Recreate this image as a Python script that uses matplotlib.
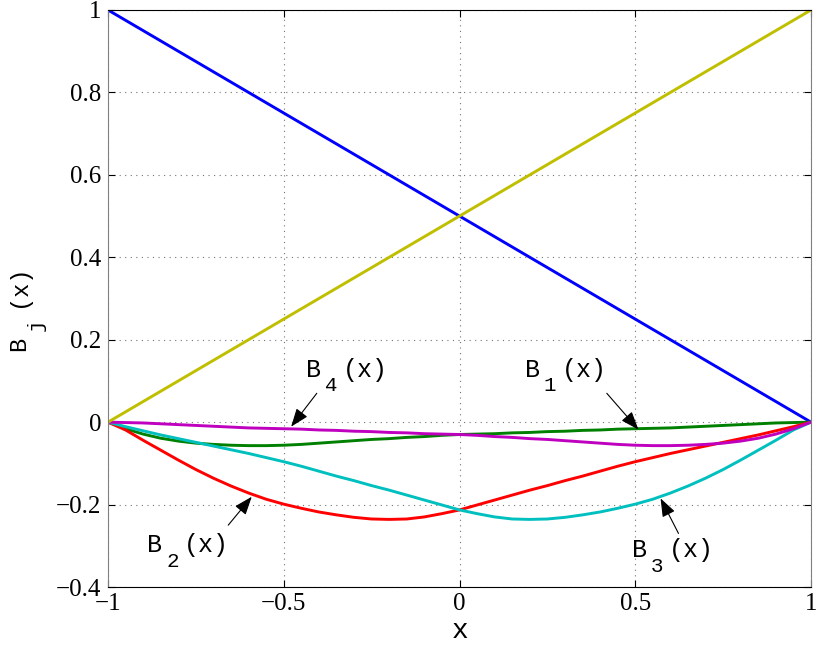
import matplotlib
matplotlib.use("Agg")
from matplotlib import pyplot as plt

# values (x step 0.05)
x = [-1.0, -0.95, -0.9, -0.85, -0.8, -0.75, -0.7, -0.65, -0.6, -0.55, -0.5,
     -0.45, -0.4, -0.35, -0.3, -0.25, -0.2, -0.15, -0.1, -0.05, 0.0,
     0.05, 0.1, 0.15, 0.2, 0.25, 0.3, 0.35, 0.4, 0.45, 0.5,
     0.55, 0.6, 0.65, 0.7, 0.75, 0.8, 0.85, 0.9, 0.95, 1.0]
b1 = [0.0, -0.016, -0.029, -0.039, -0.046, -0.051, -0.054, -0.056, -0.057, -0.057, -0.056,
      -0.054, -0.051, -0.048, -0.045, -0.042, -0.040, -0.037, -0.035, -0.032, -0.030,
      -0.029, -0.028, -0.026, -0.025, -0.023, -0.022, -0.020, -0.019, -0.017, -0.016,
      -0.015, -0.014, -0.012, -0.010, -0.008, -0.006, -0.004, -0.002, -0.001, 0.0]
b2 = [0.0, -0.019, -0.044, -0.068, -0.092, -0.115, -0.136, -0.155, -0.172, -0.187, -0.199,
      -0.209, -0.218, -0.225, -0.231, -0.235, -0.236, -0.235, -0.230, -0.222, -0.213,
      -0.201, -0.189, -0.177, -0.165, -0.154, -0.142, -0.131, -0.119, -0.107, -0.096,
      -0.086, -0.076, -0.067, -0.058, -0.049, -0.040, -0.031, -0.021, -0.011, 0.0]
b3 = [0.0, -0.011, -0.021, -0.031, -0.040, -0.049, -0.058, -0.067, -0.076, -0.086, -0.096,
      -0.107, -0.119, -0.131, -0.142, -0.154, -0.165, -0.177, -0.189, -0.201, -0.213,
      -0.222, -0.230, -0.235, -0.236, -0.235, -0.231, -0.225, -0.218, -0.209, -0.199,
      -0.187, -0.172, -0.155, -0.136, -0.115, -0.092, -0.068, -0.044, -0.019, 0.0]
b4 = [0.0, -0.001, -0.002, -0.004, -0.006, -0.008, -0.010, -0.012, -0.014, -0.015, -0.016,
      -0.017, -0.019, -0.020, -0.022, -0.023, -0.025, -0.026, -0.028, -0.029, -0.030,
      -0.032, -0.035, -0.037, -0.040, -0.042, -0.045, -0.048, -0.051, -0.054, -0.056,
      -0.057, -0.057, -0.056, -0.054, -0.051, -0.046, -0.039, -0.029, -0.016, 0.0]
x_lin = [-1.0, 1.0]
left_hat = [1.0, 0.0]
right_hat = [0.0, 1.0]

xticks = [-1, -0.5, 0, 0.5, 1]
xticklabels = ['\u22121', '\u22120.5', '0', '0.5', '1']
yticks = [-0.4, -0.2, 0, 0.2, 0.4, 0.6, 0.8, 1]
yticklabels = ['\u22120.4', '\u22120.2', '0', '0.2', '0.4', '0.6', '0.8', '1']

MONO = 'Liberation Mono'
W, H = 817, 646

plt.rcParams['mathtext.fontset'] = 'custom'
plt.rcParams['mathtext.tt'] = MONO

fig = plt.figure(figsize=(W / 100, H / 100), dpi=100)
ax = fig.add_axes([108 / W, 59 / H, 703 / W, 577 / H])

lw = 2.1
ax.plot(x_lin, left_hat, color=(0, 0, 1), lw=lw)
ax.plot(x, b1, color=(0, 0.5, 0), lw=lw)
ax.plot(x, b2, color=(1, 0, 0), lw=lw)
ax.plot(x, b3, color=(0, 0.75, 0.75), lw=lw)
ax.plot(x, b4, color=(0.75, 0, 0.75), lw=lw)
ax.plot(x_lin, right_hat, color=(0.75, 0.75, 0), lw=lw)

ax.set_xlim(-1, 1)
ax.set_ylim(-0.4, 1)
ax.set_xticks(xticks)
ax.set_xticklabels(xticklabels)
ax.set_yticks(yticks)
ax.set_yticklabels(yticklabels)
for lab in ax.get_xticklabels() + ax.get_yticklabels():
    lab.set_fontfamily('Liberation Serif')
    lab.set_fontsize(18)
ax.tick_params(direction='in', top=True, right=True, length=5)
ax.tick_params(axis='x', pad=4)
ax.tick_params(axis='y', pad=5)
ax.grid(True, linestyle=(0, (1, 4)), color='0.45', lw=0.8)
for side in ['left', 'right']:
    ax.spines[side].set_color('0.5')

ax.set_xlabel(r'$\mathtt{x}$', fontsize=20, labelpad=1)


def fpos(px, py):
    return px / W, (H - py) / H


# y label B_j(x), built from pieces, rotated
kw = dict(rotation=90, rotation_mode='anchor', ha='left', va='baseline',
          fontfamily=MONO)
fig.text(*fpos(25, 351), 'B', fontsize=17, **kw)
fig.text(*fpos(42, 331), 'j', fontsize=15, **kw)
fig.text(*fpos(25, 307), '(x)', fontsize=17, **kw)

# curve labels and arrows
arrow = dict(arrowstyle='-|>,head_length=0.8,head_width=0.3', color='k',
             lw=0.8, mutation_scale=14, shrinkA=0, shrinkB=0)
labels = [
    ('4', (-0.437, 0.110), (-0.406, 0.070), (-0.479, -0.011)),
    ('1', (0.186, 0.110), (0.419, 0.070), (0.509, -0.018)),
    ('2', (-0.888, -0.315), (-0.658, -0.250), (-0.591, -0.181)),
    ('3', (0.492, -0.328), (0.623, -0.270), (0.572, -0.185)),
]
for sub, pos, tail, tip in labels:
    tkw = dict(xy=pos, textcoords='offset points', ha='left', va='baseline',
               fontfamily=MONO)
    ax.annotate('B', xytext=(0, 0), fontsize=18, **tkw)
    ax.annotate(sub, xytext=(13.5, -10.5), fontsize=15, **tkw)
    ax.annotate('(x)', xytext=(26.5, 0), fontsize=18, **tkw)
    ax.annotate('', xy=tip, xytext=tail, arrowprops=arrow)

fig.savefig('out.png', dpi=100)
